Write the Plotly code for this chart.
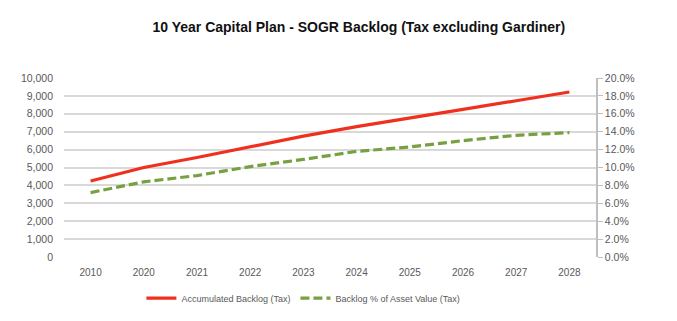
import plotly.graph_objects as go

years = ["2010", "2020", "2021", "2022", "2023", "2024", "2025", "2026", "2027", "2028"]
backlog = [4250, 5000, 5560, 6160, 6750, 7280, 7780, 8250, 8730, 9220]
backlog_pct = [0.072, 0.084, 0.091, 0.101, 0.109, 0.118, 0.123, 0.130, 0.136, 0.139]

left_ticks = [0, 1000, 2000, 3000, 4000, 5000, 6000, 7000, 8000, 9000, 10000]
right_ticks = [0, 0.02, 0.04, 0.06, 0.08, 0.10, 0.12, 0.14, 0.16, 0.18, 0.20]

font_fam = "Liberation Sans, Arial, sans-serif"
tick_col = "#595959"

fig = go.Figure()
fig.add_trace(go.Scatter(
    x=years, y=backlog, name="Accumulated Backlog (Tax)", mode="lines",
    line=dict(color="#f0301e", width=3.2),
))
fig.add_trace(go.Scatter(
    x=years, y=backlog_pct, name="Backlog % of Asset Value (Tax)", mode="lines",
    line=dict(color="#77a040", width=3.2, dash="9px,4px"), yaxis="y2",
))

fig.update_layout(
    width=677, height=321,
    margin=dict(l=64, r=81, t=78, b=64, autoexpand=False),
    paper_bgcolor="white", plot_bgcolor="white",
    font=dict(family=font_fam, color=tick_col, size=10),
    title=dict(
        text="<b>10 Year Capital Plan - SOGR Backlog (Tax excluding Gardiner)</b>",
        x=0.53, xanchor="center", y=0.915, yanchor="middle",
        font=dict(family=font_fam, size=14, color="#111111"),
    ),
    xaxis=dict(
        type="category", range=[-0.5, 9.5], showgrid=False, showline=False,
        ticks="", tickfont=dict(size=10, color=tick_col), ticklabelstandoff=8,
        automargin=False,
    ),
    yaxis=dict(
        range=[0, 10000], tickvals=left_ticks, tickformat=",d",
        showgrid=True, gridcolor="#d9d9d9", gridwidth=2, zeroline=False,
        showline=False, ticks="", tickfont=dict(size=10.5, color=tick_col),
        ticklabelstandoff=10, automargin=False,
    ),
    yaxis2=dict(
        range=[0, 0.20], tickvals=right_ticks, tickformat=".1%",
        overlaying="y", side="right", showgrid=False, zeroline=False,
        showline=True, linecolor="#bfbfbf", linewidth=1.5,
        ticks="outside", ticklen=5, tickcolor="#bfbfbf",
        tickfont=dict(size=10.5, color=tick_col), automargin=False,
    ),
    legend=dict(
        orientation="h", x=0.45, xanchor="center", y=-0.23, yanchor="middle",
        font=dict(size=9, color=tick_col), itemwidth=30,
    ),
    showlegend=True,
)

fig.write_html("out.html")
